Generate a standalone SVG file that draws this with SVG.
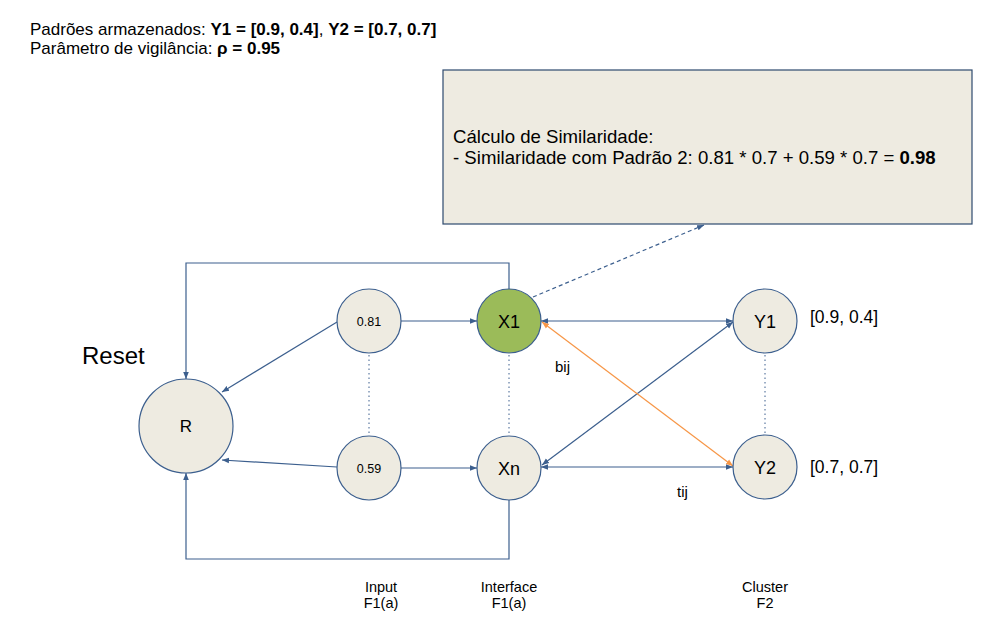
<svg xmlns="http://www.w3.org/2000/svg" width="1007" height="634" viewBox="0 0 1007 634">
<defs>
<style>
text{font-family:"Liberation Sans",Arial,sans-serif;fill:#000}
.node{fill:#EEEBE1;stroke:#3C5F8E;stroke-width:1.2}
.green{fill:#9BBB59}
.ln{fill:none;stroke:#3C5F8E;stroke-width:1.2}
.or{fill:none;stroke:#F79646;stroke-width:1.2}
.dot{fill:none;stroke:#3C5F8E;stroke-width:1;stroke-dasharray:1.5 3}
.dash{fill:none;stroke:#3C5F8E;stroke-width:1.2;stroke-dasharray:4 3}
.b{font-weight:bold}
</style>
<marker id="ab" viewBox="0 0 10 10" refX="10" refY="5" markerWidth="7" markerHeight="7" orient="auto-start-reverse" markerUnits="userSpaceOnUse"><path d="M0,1 L10,5 L0,9 z" fill="#3C5F8E"/></marker>
<marker id="ao" viewBox="0 0 10 10" refX="10" refY="5" markerWidth="7" markerHeight="7" orient="auto-start-reverse" markerUnits="userSpaceOnUse"><path d="M0,1 L10,5 L0,9 z" fill="#F79646"/></marker>
</defs>
<rect width="1007" height="634" fill="#fff"/>
<text x="30" y="35" font-size="17">Padrões armazenados: <tspan class="b">Y1 = [0.9, 0.4]</tspan>, <tspan class="b">Y2 = [0.7, 0.7]</tspan></text>
<text x="30" y="54" font-size="17">Parâmetro de vigilância: <tspan class="b">ρ = 0.95</tspan></text>

<g id="note">
<rect x="443" y="70" width="529" height="154" class="node" style="stroke:#2E4A6E"/>
<text x="453" y="143" font-size="18.6">Cálculo de Similaridade:</text>
<text x="453" y="164" font-size="18.6">- Similaridade com Padrão 2: 0.81 * 0.7 + 0.59 * 0.7 = <tspan class="b">0.98</tspan></text>
</g>

<g id="connectors">
<polyline class="ln" points="509,289 509,263 186,263 186,379" marker-end="url(#ab)"/>
<polyline class="ln" points="509,500 509,559 186,559 186,473" marker-end="url(#ab)"/>
<line class="ln" x1="337" y1="322" x2="222" y2="392" marker-end="url(#ab)"/>
<line class="ln" x1="337" y1="467" x2="222" y2="460" marker-end="url(#ab)"/>
<line class="ln" x1="401" y1="321" x2="477" y2="321" marker-end="url(#ab)"/>
<line class="ln" x1="401" y1="468" x2="477" y2="468" marker-end="url(#ab)"/>
<line class="dot" x1="369" y1="355" x2="369" y2="435"/>
<line class="dot" x1="509" y1="355" x2="509" y2="435"/>
<line class="dot" x1="765" y1="355" x2="765" y2="434"/>
<line class="ln" x1="541" y1="321" x2="733" y2="321" marker-start="url(#ab)" marker-end="url(#ab)"/>
<line class="ln" x1="541" y1="467" x2="733" y2="467" marker-start="url(#ab)" marker-end="url(#ab)"/>
<line class="ln" x1="542" y1="465" x2="733" y2="322" marker-start="url(#ab)" marker-end="url(#ab)"/>
<line class="or" x1="542" y1="322" x2="733" y2="466" marker-start="url(#ao)" marker-end="url(#ao)"/>
<line class="dash" x1="533" y1="297" x2="704" y2="225" marker-end="url(#ab)"/>
</g>

<g id="R"><circle cx="186" cy="426" r="47" class="node"/><text x="186" y="432" font-size="17" text-anchor="middle">R</text></g>
<g id="in1"><circle cx="369" cy="321" r="32" class="node"/><text x="369" y="326" font-size="12.5" text-anchor="middle">0.81</text></g>
<g id="in2"><circle cx="369" cy="468" r="32" class="node"/><text x="369" y="473" font-size="12.5" text-anchor="middle">0.59</text></g>
<g id="X1"><circle cx="509" cy="321" r="32" class="node green"/><text x="509" y="328" font-size="18" text-anchor="middle">X1</text></g>
<g id="Xn"><circle cx="509" cy="468" r="32" class="node"/><text x="509" y="475" font-size="18" text-anchor="middle">Xn</text></g>
<g id="Y1"><circle cx="765" cy="321" r="32" class="node"/><text x="765" y="328" font-size="18" text-anchor="middle">Y1</text></g>
<g id="Y2"><circle cx="765" cy="467" r="32" class="node"/><text x="765" y="474" font-size="18" text-anchor="middle">Y2</text></g>

<text x="82" y="364" font-size="24">Reset</text>
<text x="555" y="372" font-size="15">bij</text>
<text x="677" y="497" font-size="15">tij</text>
<text x="810" y="323" font-size="17.5">[0.9, 0.4]</text>
<text x="810" y="473" font-size="17.5">[0.7, 0.7]</text>
<g font-size="14.5" text-anchor="middle">
<text x="381" y="592">Input</text><text x="381" y="608">F1(a)</text>
<text x="509" y="592">Interface</text><text x="509" y="608">F1(a)</text>
<text x="765" y="592">Cluster</text><text x="765" y="608">F2</text>
</g>
</svg>
